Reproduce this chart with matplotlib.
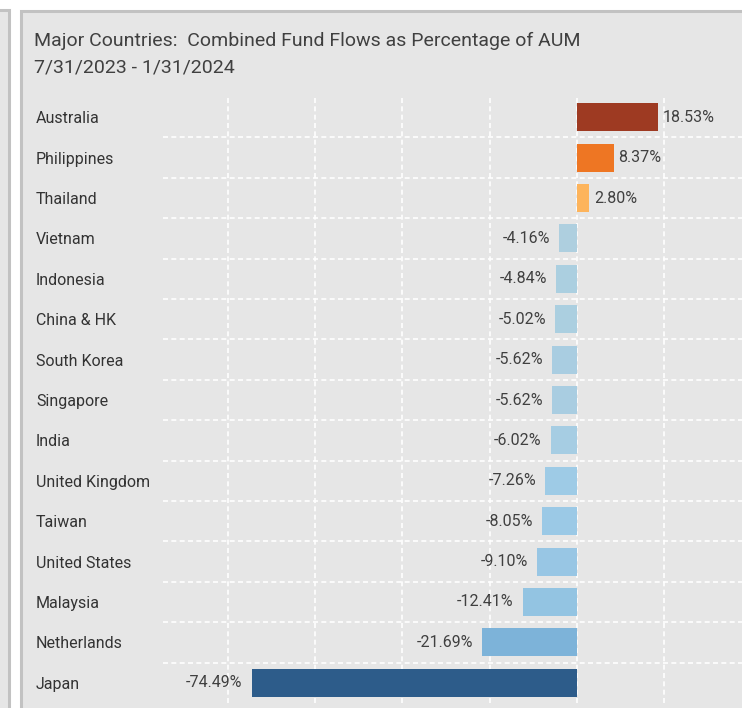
import matplotlib.pyplot as plt
from matplotlib.patches import Rectangle

plt.rcParams['font.family'] = ['Roboto', 'DejaVu Sans']

countries = ['Australia', 'Philippines', 'Thailand', 'Vietnam', 'Indonesia',
             'China & HK', 'South Korea', 'Singapore', 'India', 'United Kingdom',
             'Taiwan', 'United States', 'Malaysia', 'Netherlands', 'Japan']
flows = [18.53, 8.37, 2.80, -4.16, -4.84, -5.02, -5.62, -5.62, -6.02, -7.26,
         -8.05, -9.10, -12.41, -21.69, -74.49]
colors = ['#9e3a22', '#ee7623', '#fdb45c', '#aecfdf', '#abcfe0', '#abcfe0',
          '#a9cde1', '#a9cde1', '#a6cde3', '#9ecbe6', '#9bc9e6', '#98c6e4',
          '#93c4e2', '#7db3d9', '#2d5c8a']

W, H = 742, 708
fig = plt.figure(figsize=(W / 100, H / 100), dpi=100)
fig.patch.set_facecolor('white')

# panels
bg = '#e6e6e6'
edge = '#c2c2c2'
fig.patches.append(Rectangle((-0.05, -0.1), (9 / W) + 0.05, 1 - 10 / H + 0.1,
                             transform=fig.transFigure, facecolor=bg,
                             edgecolor=edge, linewidth=2.2, zorder=-5))
fig.patches.append(Rectangle((21 / W, -0.1), 1.2, 1 - 11 / H + 0.1,
                             transform=fig.transFigure, facecolor=bg,
                             edgecolor=edge, linewidth=2.2, zorder=-5))

fig.text(34 / W, 1 - 41 / H, 'Major Countries:  Combined Fund Flows as Percentage of AUM',
         fontsize=14, color='#404040', va='center', ha='left')
fig.text(34 / W, 1 - 67 / H, '7/31/2023 - 1/31/2024',
         fontsize=14, color='#404040', va='center', ha='left')

ax = fig.add_axes([163 / W, 1 - 703 / H, (W - 163) / W, 606 / H])
ax.set_facecolor(bg)
ax.patch.set_alpha(0)

y = list(range(len(countries)))
ax.barh(y, flows, height=0.69, color=colors, zorder=3)
ax.set_ylim(len(countries) - 0.5, -0.5)
scale = 4.366
ax.set_xlim(-414 / scale, (W - 577) / scale)

for yi, v in zip(y, flows):
    if v >= 0:
        ax.annotate(f'{v:.2f}%', (v, yi), xytext=(3.5, 0), textcoords='offset points',
                    ha='left', va='center', fontsize=11.5, color='#404040')
    else:
        ax.annotate(f'{v:.2f}%', (v, yi), xytext=(-6.5, 0), textcoords='offset points',
                    ha='right', va='center', fontsize=11.5, color='#404040')

ax.set_yticks(y)
ax.set_yticklabels(countries, ha='left', fontsize=11.5, color='#333333')
ax.tick_params(axis='y', length=0, pad=(163 - 36) * 0.72)
ax.set_yticks([i + 0.5 for i in y[:-1]], minor=True)
ax.tick_params(axis='y', which='minor', length=0)
ax.set_xticks([-80, -60, -40, -20, 0, 20])
ax.tick_params(axis='x', length=0, labelbottom=False)
ax.grid(True, axis='x', color='white', linestyle=(0, (3, 2)), linewidth=1.2, zorder=1)
ax.grid(True, axis='y', which='minor', color='white', linestyle=(0, (3, 2)),
        linewidth=1.2, zorder=1)
ax.grid(False, axis='y', which='major')
for s in ax.spines.values():
    s.set_visible(False)

fig.savefig('out.png', dpi=100)
